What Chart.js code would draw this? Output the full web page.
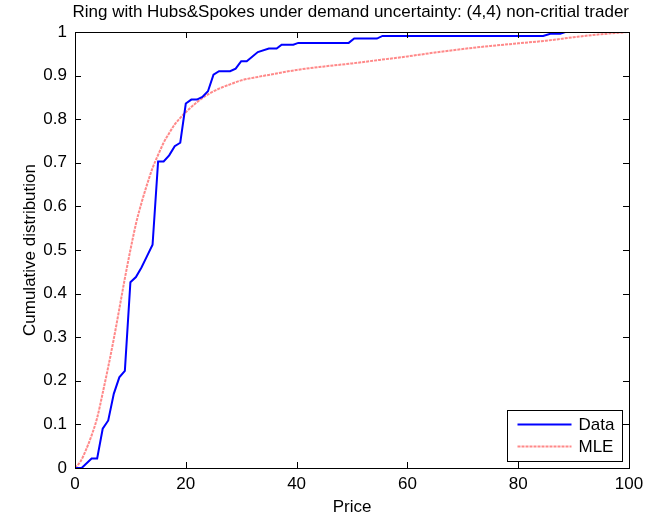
<!DOCTYPE html>
<html>
<head>
<meta charset="utf-8">
<script src="https://cdn.jsdelivr.net/npm/chart.js@4"></script>
<style>
  html, body { margin: 0; padding: 0; background: #fff; }
  #wrap { width: 650px; height: 522px; }
</style>
</head>
<body>
<div id="wrap"><canvas id="chart" width="650" height="522"></canvas></div>
<script>
const titleText = 'Ring with Hubs&Spokes under demand uncertainty: (4,4) non-critial trader';
const xLabel = 'Price';
const yLabel = 'Cumulative distribution';
const xTicks = [0, 20, 40, 60, 80, 100];
const yTicks = [0, 0.1, 0.2, 0.3, 0.4, 0.5, 0.6, 0.7, 0.8, 0.9, 1];

// empirical CDF (blue)
const dataPrice = [0, 1.2, 3, 4, 5, 6, 7, 8, 9, 10, 11, 12, 13, 14, 15, 16, 17, 18, 19, 20,
  21, 22, 23, 24, 25, 26, 28, 29, 30, 31, 33, 35, 36.4, 37.3, 39.4, 40.3, 49.4, 50.4,
  54.5, 55.5, 84.5, 85.8, 87.6, 88.5, 100];
const dataCdf = [0, 0, 0.022, 0.022, 0.09, 0.109, 0.17, 0.208, 0.223, 0.426, 0.438, 0.46,
  0.486, 0.512, 0.703, 0.703, 0.717, 0.738, 0.746, 0.836, 0.845, 0.845, 0.851, 0.864,
  0.902, 0.91, 0.91, 0.916, 0.933, 0.933, 0.954, 0.962, 0.962, 0.971, 0.971, 0.975,
  0.975, 0.985, 0.985, 0.991, 0.991, 0.996, 0.996, 1, 1];

// fitted CDF (red)
const mlePrice = [0, 1, 2, 3, 4, 5, 6, 7, 8, 9, 10, 11, 12, 13, 14, 15, 16, 17, 18, 19, 20,
  22, 24, 26, 28, 30, 33, 36, 40, 45, 50, 55, 60, 65, 70, 75, 80, 85, 90, 95, 100];
const mleCdf = [0, 0.015, 0.042, 0.075, 0.115, 0.172, 0.232, 0.296, 0.365, 0.435, 0.5,
  0.56, 0.608, 0.65, 0.688, 0.718, 0.746, 0.768, 0.788, 0.803, 0.816, 0.839, 0.857,
  0.87, 0.88, 0.889, 0.897, 0.904, 0.913, 0.921, 0.928, 0.936, 0.944, 0.953, 0.961,
  0.968, 0.974, 0.98, 0.988, 0.995, 1];

const FONT = '"Liberation Sans", Arial, sans-serif';
const FS = 17;

// box around the axes with inward ticks on all four sides, and the legend
const matlabAxes = {
  id: 'matlabAxes',
  afterDatasetsDraw(chart) {
    const c = chart.ctx;
    const a = chart.chartArea;
    const xs = chart.scales.x, ys = chart.scales.y;
    const tl = 6;
    c.save();
    c.strokeStyle = '#000';
    c.lineWidth = 1;
    c.beginPath();
    xTicks.forEach(v => {
      const px = Math.round(xs.getPixelForValue(v)) + 0.5;
      c.moveTo(px, a.bottom); c.lineTo(px, a.bottom - tl);
      c.moveTo(px, a.top); c.lineTo(px, a.top + tl);
    });
    yTicks.forEach(v => {
      const py = Math.round(ys.getPixelForValue(v)) + 0.5;
      c.moveTo(a.left, py); c.lineTo(a.left + tl, py);
      c.moveTo(a.right, py); c.lineTo(a.right - tl, py);
    });
    c.stroke();
    c.strokeRect(Math.round(a.left) + 0.5, Math.round(a.top) + 0.5,
      Math.round(a.right - a.left), Math.round(a.bottom - a.top));

    // legend
    const w = 115, h = 51;
    const lx = Math.round(a.right) - 7 - w + 0.5;
    const ly = Math.round(a.bottom) - 7 - h + 0.5;
    c.fillStyle = '#fff';
    c.fillRect(lx, ly, w, h);
    c.strokeRect(lx, ly, w, h);
    c.font = FS + 'px ' + FONT;
    c.textBaseline = 'middle';
    chart.data.datasets.forEach((ds, i) => {
      const ry = ly + 14 + i * 22;
      c.save();
      c.strokeStyle = ds.borderColor;
      c.lineWidth = ds.borderWidth;
      c.setLineDash(ds.borderDash || []);
      c.beginPath();
      c.moveTo(lx + 10, ry); c.lineTo(lx + 64, ry);
      c.stroke();
      c.restore();
      c.fillStyle = '#000';
      c.fillText(ds.label, lx + 71, ry + 1);
    });
    c.restore();
  }
};

new Chart(document.getElementById('chart'), {
  type: 'line',
  data: {
    datasets: [
      {
        label: 'Data',
        data: dataPrice.map((x, i) => ({x: x, y: dataCdf[i]})),
        borderColor: '#0000ff',
        borderWidth: 2,
        pointRadius: 0,
        tension: 0
      },
      {
        label: 'MLE',
        data: mlePrice.map((x, i) => ({x: x, y: mleCdf[i]})),
        borderColor: 'rgba(255, 40, 40, 0.55)',
        borderWidth: 2,
        borderDash: [3, 1],
        pointRadius: 0,
        cubicInterpolationMode: 'monotone'
      }
    ]
  },
  options: {
    responsive: false,
    devicePixelRatio: 1,
    animation: false,
    layout: { padding: { top: 0, right: 21, bottom: 0, left: 0 } },
    plugins: {
      legend: { display: false },
      tooltip: { enabled: false },
      title: {
        display: true,
        text: titleText,
        align: 'end',
        color: '#000',
        font: { family: FONT, size: FS, weight: 'normal' },
        padding: { top: 2, bottom: 9.6 }
      }
    },
    scales: {
      x: {
        type: 'linear',
        min: 0, max: 100,
        afterBuildTicks: s => { s.ticks = xTicks.map(v => ({value: v})); },
        afterFit: s => { s.height = 54; },
        grid: { display: false, drawTicks: false },
        border: { display: false },
        ticks: { color: '#000', padding: 6, font: { family: FONT, size: FS } },
        title: {
          display: true, text: xLabel, color: '#000',
          font: { family: FONT, size: FS },
          padding: { top: 0, bottom: 4.8 }
        }
      },
      y: {
        type: 'linear',
        min: 0, max: 1,
        afterBuildTicks: s => { s.ticks = yTicks.map(v => ({value: v})); },
        afterFit: s => { s.width = 75; },
        grid: { display: false, drawTicks: false },
        border: { display: false },
        ticks: {
          color: '#000', padding: 8, font: { family: FONT, size: FS },
          callback: v => String(+v.toFixed(1))
        },
        title: {
          display: true, text: yLabel, color: '#000',
          font: { family: FONT, size: FS },
          padding: { top: 19.8, bottom: 0 }
        }
      }
    }
  },
  plugins: [matlabAxes]
});
</script>
</body>
</html>
